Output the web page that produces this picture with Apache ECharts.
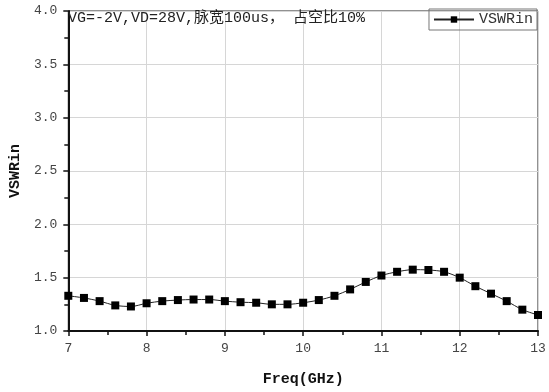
<!DOCTYPE html>
<html>
<head>
<meta charset="utf-8">
<script src="https://cdn.jsdelivr.net/npm/echarts@6/dist/echarts.min.js"></script>
<style>
  html, body { margin: 0; padding: 0; background: #fff; }
  #chart { width: 549px; height: 392px; }
</style>
</head>
<body>
<div id="chart"></div>
<script>
// frequency points (GHz) and measured VSWR
const freq = [7.0, 7.2, 7.4, 7.6, 7.8, 8.0, 8.2, 8.4, 8.6, 8.8,
              9.0, 9.2, 9.4, 9.6, 9.8, 10.0, 10.2, 10.4, 10.6, 10.8,
              11.0, 11.2, 11.4, 11.6, 11.8, 12.0, 12.2, 12.4, 12.6, 12.8, 13.0];
const vswrIn = [1.33, 1.31, 1.28, 1.24, 1.23, 1.26, 1.28, 1.29, 1.295, 1.295,
                1.28, 1.27, 1.265, 1.25, 1.25, 1.265, 1.29, 1.33, 1.39, 1.46,
                1.52, 1.555, 1.575, 1.572, 1.555, 1.50, 1.42, 1.35, 1.28, 1.20, 1.15];
const note = "VG=-2V,VD=28V,脉宽100us， 占空比10%";

const FONT = "'Liberation Mono', 'Noto Sans CJK SC', monospace";

const chart = echarts.init(document.getElementById("chart"));
chart.setOption({
  animation: false,
  title: {
    text: note,
    left: 68,
    top: 11,
    padding: 0,
    textStyle: { fontSize: 15, fontWeight: "normal", color: "#222", fontFamily: FONT }
  },
  legend: {
    data: ["VSWRin"],
    right: 12,
    top: 9,
    padding: [3, 4, 3, 4],
    itemWidth: 40,
    itemHeight: 8,
    itemGap: 4,
    borderColor: "#777",
    borderWidth: 1,
    borderRadius: 0,
    textStyle: { fontSize: 15, color: "#333", fontFamily: FONT }
  },
  grid: { left: 68, right: 11, top: 11, bottom: 49, show: true, borderColor: "#222", borderWidth: 1 },
  xAxis: {
    type: "value",
    min: 7,
    max: 13,
    interval: 1,
    name: "Freq(GHz)",
    nameLocation: "middle",
    nameGap: 41,
    nameTextStyle: { fontSize: 15, fontWeight: "bold", color: "#111", fontFamily: FONT },
    axisLine: { lineStyle: { color: "#111", width: 2 } },
    axisTick: { show: true, inside: false, length: 5, lineStyle: { color: "#111", width: 1.5 } },
    minorTick: { show: true, splitNumber: 2, length: 4, lineStyle: { color: "#111", width: 1.5 } },
    axisLabel: { fontSize: 13, color: "#444", margin: 11, fontFamily: FONT },
    splitLine: { show: true, lineStyle: { color: "#d6d6d6", width: 1 } }
  },
  yAxis: {
    type: "value",
    min: 1,
    max: 4,
    interval: 0.5,
    name: "VSWRin",
    nameLocation: "middle",
    nameGap: 38,
    nameTextStyle: { fontSize: 15, fontWeight: "bold", color: "#111", fontFamily: FONT },
    axisLine: { show: true, lineStyle: { color: "#111", width: 2 } },
    axisTick: { show: true, inside: false, length: 5, lineStyle: { color: "#111", width: 1.5 } },
    minorTick: { show: true, splitNumber: 2, length: 4, lineStyle: { color: "#111", width: 1.5 } },
    axisLabel: { fontSize: 13, color: "#444", margin: 11, fontFamily: FONT, formatter: (v) => v.toFixed(1) },
    splitLine: { show: true, lineStyle: { color: "#d6d6d6", width: 1 } }
  },
  series: [
    {
      name: "VSWRin",
      type: "line",
      data: freq.map((f, i) => [f, vswrIn[i]]),
      smooth: 0.3,
      symbol: "rect",
      symbolSize: 8,
      itemStyle: { color: "#000" },
      lineStyle: { color: "#222", width: 1 }
    }
  ]
});
</script>
</body>
</html>
